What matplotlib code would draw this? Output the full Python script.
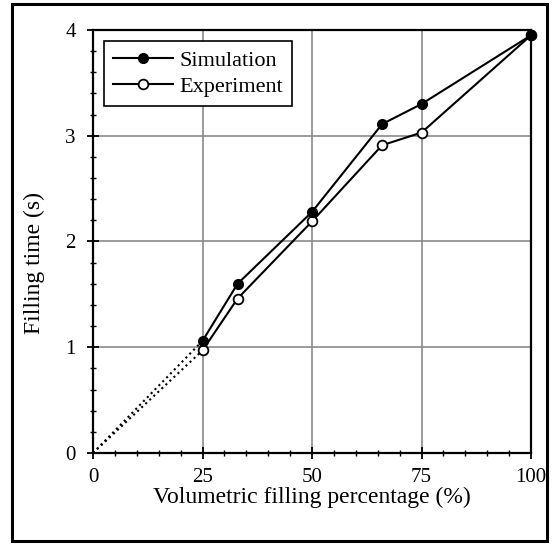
import matplotlib
matplotlib.use('Agg')
import matplotlib.pyplot as plt
from matplotlib.ticker import MultipleLocator
from matplotlib.patches import Rectangle

plt.rcParams['font.family'] = ['Liberation Serif', 'DejaVu Serif']

# Data
fill_pct = [0, 25, 33, 50, 66, 75, 100]
sim_time = [0, 1.06, 1.60, 2.28, 3.11, 3.30, 3.95]
exp_time = [0, 0.97, 1.46, 2.19, 2.91, 3.03, 3.95]

fig = plt.figure(figsize=(5.58, 5.44), dpi=100)
ax = fig.add_axes([0.1667, 0.1673, 0.785, 0.7776])

# first segment (origin to 25 %) drawn dotted, rest solid
ax.plot(fill_pct[:2], sim_time[:2], ':', color='black', lw=1.5, zorder=3)
ax.plot(fill_pct[:2], exp_time[:2], ':', color='black', lw=1.5, zorder=3)
ax.plot(fill_pct[1:], sim_time[1:], '-o', color='black', lw=1.5, ms=7,
        mfc='black', mec='black', label='Simulation', zorder=5, clip_on=False)
ax.plot(fill_pct[1:], exp_time[1:], '-o', color='black', lw=1.5, ms=7,
        mfc='white', mec='black', mew=1.3, label='Experiment', zorder=4, clip_on=False)

ax.set_xlim(0, 100)
ax.set_ylim(0, 4)
ax.xaxis.set_major_locator(MultipleLocator(25))
ax.xaxis.set_minor_locator(MultipleLocator(5))
ax.yaxis.set_major_locator(MultipleLocator(1))
ax.yaxis.set_minor_locator(MultipleLocator(0.2))
ax.tick_params(which='major', direction='inout', length=9, width=1.3, labelsize=15, pad=8)
ax.tick_params(axis='x', which='major', pad=6)
ax.tick_params(which='minor', direction='inout', length=5, width=1.0)
ax.grid(True, which='major', color='#8a8a8a', lw=1.2)
for s in ax.spines.values():
    s.set_linewidth(1.6)

ax.set_xlabel('Volumetric filling percentage (%)', fontsize=17, labelpad=0)
ax.set_ylabel('Filling time (s)', fontsize=17, labelpad=3)
ax.yaxis.set_label_coords(-0.11, 0.45)

leg = ax.legend(loc='upper left', fontsize=16, frameon=True, fancybox=False,
                edgecolor='black', framealpha=1, handlelength=2.7,
                borderpad=0.4, labelspacing=0.25, handletextpad=0.3,
                borderaxespad=0.5)
leg.get_frame().set_linewidth(1.2)

# outer frame around the whole picture
fig.patches.append(Rectangle((0.022, 0.006), 0.958, 0.986, transform=fig.transFigure,
                             fill=False, edgecolor='black', lw=2.2))

fig.savefig('out.png', dpi=100)
